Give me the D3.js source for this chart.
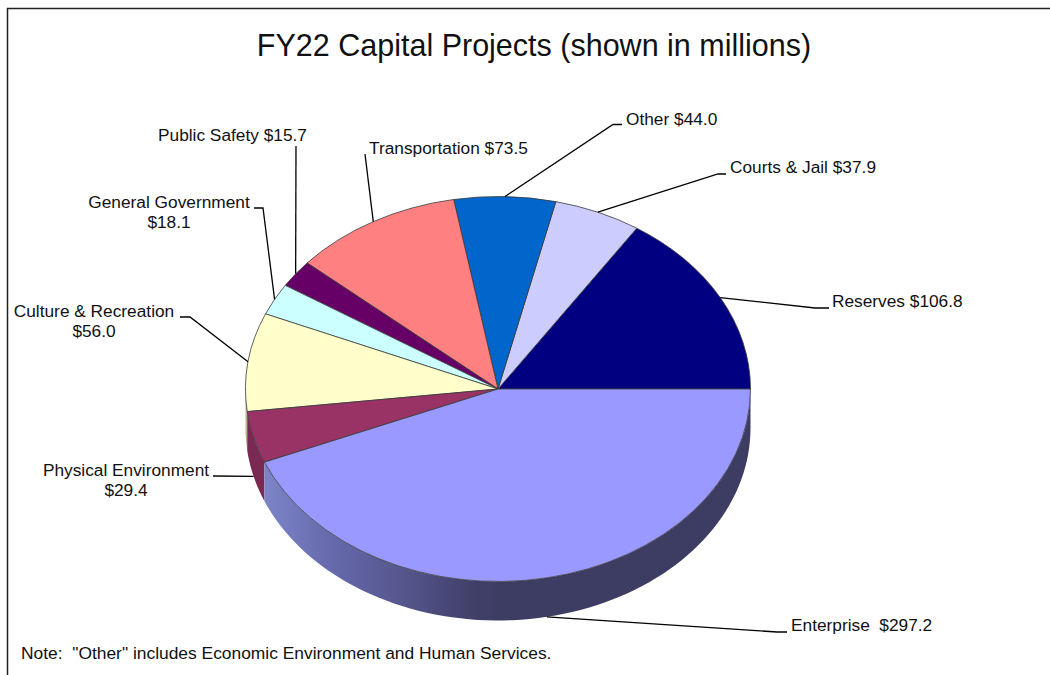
<!DOCTYPE html>
<html>
<head>
<meta charset="utf-8">
<style>
  html, body { margin: 0; padding: 0; background: #fff; }
  svg { display: block; }
  text { font-family: "Liberation Sans", Arial, sans-serif; fill: #111; white-space: pre; }
</style>
</head>
<body>
<svg></svg>
<script src="https://d3js.org/d3.v7.min.js"></script>
<script>

var categories = ["Reserves", "Courts & Jail", "Other", "Transportation", "Public Safety",
  "General Government", "Culture & Recreation", "Physical Environment", "Enterprise"];
var values = [106.8, 37.9, 44.0, 73.5, 15.7, 18.1, 56.0, 29.4, 297.2];
var colors = ["#000080", "#ccccff", "#0066cc", "#ff8080", "#660066",
  "#ccffff", "#ffffcc", "#993366", "#9999ff"];
var wallColors = ["#000040", "#8a8aad", "#004488", "#ad5757", "#440044",
  "#8aadad", "#b3b38f", "#7a2952", "url(#enterpriseWall)"];

var titleText = "FY22 Capital Projects (shown in millions)";
var noteText = 'Note:  "Other" includes Economic Environment and Human Services.';

// label text lines, in the same order as categories
var labelLines = [
  ["Reserves $106.8"],
  ["Courts & Jail $37.9"],
  ["Other $44.0"],
  ["Transportation $73.5"],
  ["Public Safety $15.7"],
  ["General Government", "$18.1"],
  ["Culture & Recreation", "$56.0"],
  ["Physical Environment", "$29.4"],
  ["Enterprise  $297.2"]
];

// where each label and its leader elbow sit (x, baseline y, text anchor, elbow points)
var labelLayout = [
  {x: 832, y: 307, anchor: "start", elbow: [[815, 308], [829, 308]]},
  {x: 730, y: 173, anchor: "start", elbow: [[718, 174], [726, 174]]},
  {x: 626, y: 125, anchor: "start", elbow: [[613, 124.5], [622, 124.5]]},
  {x: 369, y: 154, anchor: "start", elbow: [[365, 154]]},
  {x: 158, y: 141, anchor: "start", elbow: [[296, 146]]},
  {x: 169, y: 208, anchor: "middle", elbow: [[263, 208], [254, 208]]},
  {x: 94, y: 317, anchor: "middle", elbow: [[190, 317], [180, 317]]},
  {x: 126, y: 476, anchor: "middle", elbow: [[213, 476]]},
  {x: 791, y: 631, anchor: "start", elbow: [[777, 632], [787, 632]]}
];

var width = 1050, height = 675;
var cx = 498, cy = 389, rx = 252.5, ry = 192.5, depth = 39;

var svg = d3.select("svg").attr("width", width).attr("height", height);

// left and top rule of the frame, runs off the page on the other two sides
svg.append("path")
    .attr("d", d3.line()([[7.5, height], [7.5, 8.5], [width, 8.5]]))
    .attr("fill", "none")
    .attr("stroke", "#222")
    .attr("stroke-width", 1.5);

var grad = svg.append("defs").append("linearGradient")
    .attr("id", "enterpriseWall")
    .attr("gradientUnits", "userSpaceOnUse")
    .attr("x1", 265).attr("x2", 500).attr("y1", 0).attr("y2", 0);
[[0, "#7c84c8"], [0.3, "#6568aa"], [0.6, "#54558b"], [0.9, "#3f3f68"], [1, "#3d3d64"]].forEach(function(s) {
  grad.append("stop").attr("offset", s[0]).attr("stop-color", s[1]);
});

// pie runs counter clockwise from due east
var pie = d3.pie().sort(null).startAngle(Math.PI / 2).endAngle(Math.PI / 2 - 2 * Math.PI);
var slices = pie(values);

function ex(a) { return cx + rx * Math.sin(a); }
function ey(a) { return cy - ry * Math.cos(a); }

function wrap(a) {
  var t = 2 * Math.PI;
  return ((a % t) + t) % t;
}

// side wall of a slice: only the part facing the viewer (PI/2 .. 3PI/2 from north)
function wallPath(d) {
  var hi = wrap(d.startAngle), lo = wrap(d.endAngle);
  if (hi < lo) hi += 2 * Math.PI;
  lo = Math.max(lo, Math.PI / 2);
  hi = Math.min(hi, 3 * Math.PI / 2);
  if (hi <= lo) return null;
  var top = d3.range(0, 81).map(function(i) { return lo + (hi - lo) * i / 80; });
  var pts = top.map(function(a) { return [ex(a), ey(a)]; })
    .concat(top.slice().reverse().map(function(a) { return [ex(a), ey(a) + depth]; }));
  return d3.line()(pts) + "Z";
}

svg.append("g").selectAll("path")
    .data(slices)
  .enter().append("path")
    .attr("d", wallPath)
    .attr("fill", function(d, i) { return wallColors[i]; });

var arc = d3.arc().innerRadius(0).outerRadius(rx);

svg.append("g")
    .attr("transform", "translate(" + cx + "," + cy + ") scale(1," + (ry / rx) + ")")
  .selectAll("path")
    .data(slices)
  .enter().append("path")
    .attr("d", arc)
    .attr("fill", function(d, i) { return colors[i]; })
    .attr("stroke", "#3a3a3a")
    .attr("stroke-width", 0.8)
    .attr("stroke-linejoin", "round")
    .attr("vector-effect", "non-scaling-stroke");

// leaders start from the middle of each slice's rim
svg.append("g").selectAll("path")
    .data(slices)
  .enter().append("path")
    .attr("d", function(d, i) {
      var mid = wrap((d.startAngle + d.endAngle) / 2);
      var front = mid > Math.PI / 2 && mid < 3 * Math.PI / 2;
      var start = [ex(mid), ey(mid) + (front ? depth : 0)];
      return d3.line()([start].concat(labelLayout[i].elbow));
    })
    .attr("fill", "none")
    .attr("stroke", "#000")
    .attr("stroke-width", 1.3);

var labels = svg.append("g").selectAll("text")
    .data(labelLines)
  .enter().append("text")
    .attr("text-anchor", function(d, i) { return labelLayout[i].anchor; })
    .style("font-size", "17.3px");

labels.selectAll("tspan")
    .data(function(d, i) {
      return d.map(function(line, j) {
        return {line: line, x: labelLayout[i].x, y: labelLayout[i].y + j * 20};
      });
    })
  .enter().append("tspan")
    .attr("x", function(d) { return d.x; })
    .attr("y", function(d) { return d.y; })
    .text(function(d) { return d.line; });

svg.append("text")
    .attr("x", 534)
    .attr("y", 56)
    .attr("text-anchor", "middle")
    .style("font-size", "30.5px")
    .text(titleText);

svg.append("text")
    .attr("x", 21)
    .attr("y", 659)
    .style("font-size", "17.4px")
    .text(noteText);

</script>
</body>
</html>
